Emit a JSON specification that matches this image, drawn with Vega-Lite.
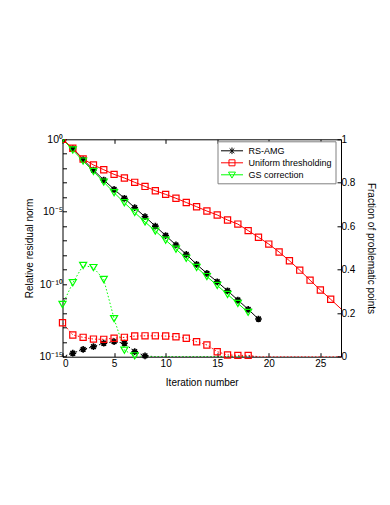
{
  "$schema": "https://vega.github.io/schema/vega-lite/v6.json",
  "width": 278.5,
  "height": 217.4,
  "autosize": {"type": "none"},
  "padding": {"left": 62.5, "top": 139.3, "right": 49, "bottom": 148.3},
  "background": "white",
  "config": {
    "font": "Liberation Sans",
    "view": {"stroke": null},
    "axis": {
      "grid": false,
      "domainColor": "#000000",
      "tickColor": "#000000",
      "labelColor": "#000000",
      "titleColor": "#000000",
      "labelFontSize": 10,
      "titleFontSize": 10,
      "titleFontWeight": "normal",
      "labelFont": "Liberation Sans",
      "titleFont": "Liberation Sans",
      "domainWidth": 1,
      "tickWidth": 1
    },
    "legend": {
      "title": null,
      "orient": "none",
      "legendX": 155,
      "legendY": 2,
      "padding": 3,
      "strokeColor": "#808080",
      "fillColor": "#ffffff",
      "symbolSize": 144,
      "symbolStrokeWidth": 1,
      "labelFontSize": 9,
      "labelFont": "Liberation Sans",
      "labelColor": "#000000",
      "labelOffset": 15,
      "rowPadding": 0
    }
  },
  "data": {
    "values": [
      {"x": 0, "series": "RS-AMG", "residual": 1, "fraction": 0},
      {"x": 1, "series": "RS-AMG", "residual": 0.2239, "fraction": 0.016},
      {"x": 2, "series": "RS-AMG", "residual": 0.03981, "fraction": 0.034},
      {"x": 3, "series": "RS-AMG", "residual": 0.007586, "fraction": 0.046},
      {"x": 4, "series": "RS-AMG", "residual": 0.001549, "fraction": 0.062},
      {"x": 5, "series": "RS-AMG", "residual": 3.548e-4, "fraction": 0.069},
      {"x": 6, "series": "RS-AMG", "residual": 8.511e-5, "fraction": 0.062},
      {"x": 7, "series": "RS-AMG", "residual": 1.905e-5, "fraction": 0.023},
      {"x": 8, "series": "RS-AMG", "residual": 4.571e-6, "fraction": 0.004},
      {"x": 9, "series": "RS-AMG", "residual": 1.023e-6, "fraction": 0},
      {"x": 10, "series": "RS-AMG", "residual": 2.291e-7, "fraction": 0},
      {"x": 11, "series": "RS-AMG", "residual": 5.129e-8, "fraction": 0},
      {"x": 12, "series": "RS-AMG", "residual": 1.148e-8, "fraction": 0},
      {"x": 13, "series": "RS-AMG", "residual": 2.344e-9, "fraction": 0},
      {"x": 14, "series": "RS-AMG", "residual": 5.623e-10, "fraction": 0},
      {"x": 15, "series": "RS-AMG", "residual": 1.479e-10, "fraction": 0},
      {"x": 16, "series": "RS-AMG", "residual": 3.548e-11, "fraction": 0},
      {"x": 17, "series": "RS-AMG", "residual": 8.128e-12, "fraction": 0},
      {"x": 18, "series": "RS-AMG", "residual": 1.862e-12, "fraction": 0},
      {"x": 19, "series": "RS-AMG", "residual": 3.981e-13, "fraction": 0},
      {"x": 0, "series": "Uniform thresholding", "residual": 1, "fraction": 0.156},
      {"x": 1, "series": "Uniform thresholding", "residual": 0.2399, "fraction": 0.1},
      {"x": 2, "series": "Uniform thresholding", "residual": 0.04365, "fraction": 0.089},
      {"x": 3, "series": "Uniform thresholding", "residual": 0.01698, "fraction": 0.081},
      {"x": 4, "series": "Uniform thresholding", "residual": 0.007943, "fraction": 0.08},
      {"x": 5, "series": "Uniform thresholding", "residual": 0.003802, "fraction": 0.085},
      {"x": 6, "series": "Uniform thresholding", "residual": 0.002138, "fraction": 0.089},
      {"x": 7, "series": "Uniform thresholding", "residual": 0.001072, "fraction": 0.095},
      {"x": 8, "series": "Uniform thresholding", "residual": 5.623e-4, "fraction": 0.096},
      {"x": 9, "series": "Uniform thresholding", "residual": 2.818e-4, "fraction": 0.096},
      {"x": 10, "series": "Uniform thresholding", "residual": 1.585e-4, "fraction": 0.095},
      {"x": 11, "series": "Uniform thresholding", "residual": 8.511e-5, "fraction": 0.092},
      {"x": 12, "series": "Uniform thresholding", "residual": 4.365e-5, "fraction": 0.085},
      {"x": 13, "series": "Uniform thresholding", "residual": 2.239e-5, "fraction": 0.069},
      {"x": 14, "series": "Uniform thresholding", "residual": 1.122e-5, "fraction": 0.054},
      {"x": 15, "series": "Uniform thresholding", "residual": 6.026e-6, "fraction": 0.023},
      {"x": 16, "series": "Uniform thresholding", "residual": 2.692e-6, "fraction": 0.008},
      {"x": 17, "series": "Uniform thresholding", "residual": 1.413e-6, "fraction": 0.006},
      {"x": 18, "series": "Uniform thresholding", "residual": 5.012e-7, "fraction": 0.006},
      {"x": 19, "series": "Uniform thresholding", "residual": 1.738e-7, "fraction": 0},
      {"x": 20, "series": "Uniform thresholding", "residual": 5.888e-8, "fraction": 0},
      {"x": 21, "series": "Uniform thresholding", "residual": 1.66e-8, "fraction": 0},
      {"x": 22, "series": "Uniform thresholding", "residual": 4.169e-9, "fraction": 0},
      {"x": 23, "series": "Uniform thresholding", "residual": 9.333e-10, "fraction": 0},
      {"x": 24, "series": "Uniform thresholding", "residual": 1.905e-10, "fraction": 0},
      {"x": 25, "series": "Uniform thresholding", "residual": 3.981e-11, "fraction": 0},
      {"x": 26, "series": "Uniform thresholding", "residual": 9.12e-12, "fraction": 0},
      {"x": 27, "series": "Uniform thresholding", "residual": 1.995e-12, "fraction": 0},
      {"x": 0, "series": "GS correction", "residual": 1, "fraction": 0.24},
      {"x": 1, "series": "GS correction", "residual": 0.182, "fraction": 0.34},
      {"x": 2, "series": "GS correction", "residual": 0.03162, "fraction": 0.42},
      {"x": 3, "series": "GS correction", "residual": 0.006026, "fraction": 0.41},
      {"x": 4, "series": "GS correction", "residual": 0.001122, "fraction": 0.355},
      {"x": 5, "series": "GS correction", "residual": 2.089e-4, "fraction": 0.175},
      {"x": 6, "series": "GS correction", "residual": 4.169e-5, "fraction": 0.03},
      {"x": 7, "series": "GS correction", "residual": 8.913e-6, "fraction": 0.004},
      {"x": 8, "series": "GS correction", "residual": 1.995e-6, "fraction": 0},
      {"x": 9, "series": "GS correction", "residual": 4.677e-7, "fraction": 0},
      {"x": 10, "series": "GS correction", "residual": 1.096e-7, "fraction": 0},
      {"x": 11, "series": "GS correction", "residual": 2.63e-8, "fraction": 0},
      {"x": 12, "series": "GS correction", "residual": 6.166e-9, "fraction": 0},
      {"x": 13, "series": "GS correction", "residual": 1.445e-9, "fraction": 0},
      {"x": 14, "series": "GS correction", "residual": 3.388e-10, "fraction": 0},
      {"x": 15, "series": "GS correction", "residual": 8.318e-11, "fraction": 0},
      {"x": 16, "series": "GS correction", "residual": 1.995e-11, "fraction": 0},
      {"x": 17, "series": "GS correction", "residual": 4.786e-12, "fraction": 0},
      {"x": 18, "series": "GS correction", "residual": 1.148e-12, "fraction": 0}
    ]
  },
  "layer": [
    {
      "encoding": {
        "x": {
          "field": "x", "type": "quantitative",
          "scale": {"domain": [0, 27], "nice": false, "zero": false},
          "axis": {"orient": "bottom", "values": [0, 5, 10, 15, 20, 25], "tickSize": -4, "labelPadding": 6, "title": "Iteration number", "titlePadding": 9}
        },
        "y": {
          "field": "residual", "type": "quantitative",
          "scale": {"type": "log", "domain": [1e-15, 1], "nice": false},
          "axis": {
            "orient": "left",
            "values": [1, 1e-1, 1e-2, 1e-3, 1e-4, 1e-5, 1e-6, 1e-7, 1e-8, 1e-9, 1e-10, 1e-11, 1e-12, 1e-13, 1e-14, 1e-15],
            "tickSize": -4,
            "labelPadding": 4,
            "labelFontSize": 10.5,
            "labelExpr": "round(log(datum.value)/LN10) == 0 ? '10⁰' : round(log(datum.value)/LN10) == -5 ? '10⁻⁵' : round(log(datum.value)/LN10) == -10 ? '10⁻¹⁰' : round(log(datum.value)/LN10) == -15 ? '10⁻¹⁵' : ''",
            "title": "Relative residual norm",
            "titlePadding": 4
          }
        },
        "color": {
          "field": "series", "type": "nominal",
          "scale": {"domain": ["RS-AMG", "Uniform thresholding", "GS correction"], "range": ["#000000", "#ff0000", "#00ff00"]},
          "legend": {"title": null}
        }
      },
      "layer": [
        {"mark": {"type": "line", "strokeWidth": 1, "clip": true}},
        {
          "transform": [{"filter": "datum.series === 'RS-AMG'"}],
          "mark": {"type": "point", "filled": false, "strokeWidth": 1.6, "opacity": 1, "clip": true, "size": 45, "shape": "M-1,0H1M0,-1V1M-0.7,-0.7L0.7,0.7M-0.7,0.7L0.7,-0.7"}
        },
        {
          "transform": [{"filter": "datum.series === 'Uniform thresholding' && datum.x < 27"}],
          "mark": {"type": "point", "filled": false, "strokeWidth": 1.2, "opacity": 1, "clip": true, "size": 38, "shape": "square"}
        },
        {
          "transform": [{"filter": "datum.series === 'GS correction'"}],
          "mark": {"type": "point", "filled": false, "strokeWidth": 1.2, "opacity": 1, "clip": true, "size": 50, "shape": "triangle-down"}
        }
      ]
    },
    {
      "encoding": {
        "x": {
          "field": "x", "type": "quantitative",
          "scale": {"domain": [0, 27], "nice": false, "zero": false},
          "axis": {"orient": "top", "values": [0, 5, 10, 15, 20, 25], "tickSize": -4, "labels": false, "title": null}
        },
        "y": {
          "field": "fraction", "type": "quantitative",
          "scale": {"domain": [0, 1], "nice": false},
          "axis": {"orient": "right", "values": [0, 0.2, 0.4, 0.6, 0.8, 1], "format": "~g", "tickSize": -4, "labelPadding": 4, "title": "Fraction of problematic points", "titlePadding": 11}
        },
        "color": {"field": "series", "type": "nominal", "scale": {"domain": ["RS-AMG", "Uniform thresholding", "GS correction"], "range": ["#000000", "#ff0000", "#00ff00"]}, "legend": {"title": null}}
      },
      "layer": [
        {"mark": {"type": "line", "strokeWidth": 1, "strokeDash": [1.5, 2], "clip": true}},
        {
          "transform": [{"filter": "datum.series === 'RS-AMG' && datum.fraction > 0"}],
          "mark": {"type": "point", "filled": false, "strokeWidth": 1.6, "opacity": 1, "size": 45, "shape": "M-1,0H1M0,-1V1M-0.7,-0.7L0.7,0.7M-0.7,0.7L0.7,-0.7"}
        },
        {
          "transform": [{"filter": "datum.series === 'Uniform thresholding' && datum.fraction > 0"}],
          "mark": {"type": "point", "filled": false, "strokeWidth": 1.2, "opacity": 1, "size": 38, "shape": "square"}
        },
        {
          "transform": [{"filter": "datum.series === 'GS correction' && datum.fraction > 0"}],
          "mark": {"type": "point", "filled": false, "strokeWidth": 1.2, "opacity": 1, "size": 50, "shape": "triangle-down"}
        },
        {
          "transform": [{"filter": "datum.x < 0"}],
          "mark": {"type": "point", "filled": false, "strokeWidth": 1, "opacity": 1},
          "encoding": {
            "shape": {
              "field": "series", "type": "nominal",
              "scale": {
                "domain": ["RS-AMG", "Uniform thresholding", "GS correction"],
                "range": [
                  "M-1,0H2.67M0.83,-0.55V0.55M0.44,-0.39L1.22,0.39M0.44,0.39L1.22,-0.39",
                  "M-1,0H2.67M0.33,-0.5H1.33V0.5H0.33Z",
                  "M-1,0H2.67M0.25,-0.45H1.41L0.83,0.55Z"
                ]
              },
              "legend": {"title": null}
            }
          }
        }
      ]
    }
  ],
  "resolve": {"scale": {"y": "independent"}, "axis": {"x": "independent", "y": "independent"}}
}
